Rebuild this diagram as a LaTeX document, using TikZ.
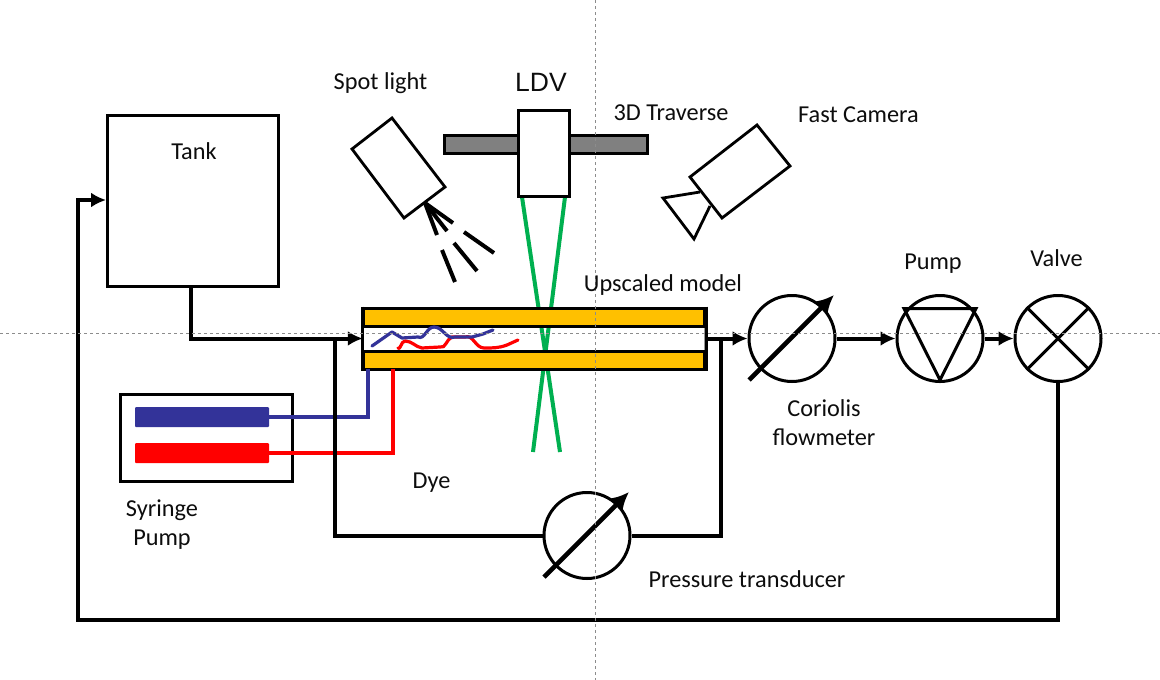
\documentclass[tikz,border=0pt]{standalone}
\usepackage{fontspec}
\setmainfont{Carlito}
\newfontfamily\arialfont{Liberation Sans}
\usetikzlibrary{arrows.meta}
\definecolor{barorange}{RGB}{255,192,0}
\definecolor{beamgreen}{RGB}{0,176,80}
\definecolor{dyeblue}{RGB}{51,51,153}
\definecolor{dyered}{RGB}{255,0,0}
\definecolor{travgray}{RGB}{128,128,128}
\tikzset{
  lbl/.style={font=\fontsize{24.3}{29}\selectfont,align=center,inner sep=0pt,text=black!95},
  box/.style={draw=black,line width=3pt,fill=white,rectangle,inner sep=0pt,line join=miter},
  meter/.style={draw=black,line width=3pt,fill=white,circle,minimum size=86pt,inner sep=0pt},
  pipe/.style={draw=black,line width=4pt,line join=miter},
  flow/.style={pipe,-{Latex[length=15pt,width=15pt]}},
  needle/.style={draw=black,line width=4.6pt,-{Latex[length=18pt,width=18pt]}},
  outline/.style={draw=black,line width=2.8pt,fill=white,line join=miter},
  ray/.style={draw=black,line width=4pt},
  beam/.style={draw=beamgreen,line width=4pt},
  dyeline/.style={line width=3.2pt},
  guide/.style={draw=black!45,line width=0.7pt,dash pattern=on 3pt off 3pt},
  barfill/.style={draw=black,line width=3pt,fill=barorange},
}
\begin{document}
\begin{tikzpicture}[x=1pt,y=-1pt]
\useasboundingbox (0,0) rectangle (1160,680);
\fill[white] (0,0) rectangle (1160,680);

% --- equipment nodes
\node[box,minimum width=171pt,minimum height=171pt] (tank) at (192.5,200.5) {};
\node[box,minimum width=172pt,minimum height=87pt] (syr) at (206,437.5) {};
\node[meter] (cor) at (792,338.5) {};
\node[meter] (pump) at (940,338.5) {};
\node[meter] (valve) at (1058,338.5) {};
\node[meter] (pt) at (587,535.5) {};

% --- test section
\node[draw=black!40,line width=1.5pt,fill=white,rectangle,inner sep=0pt,minimum width=341pt,minimum height=60pt] (model) at (534,338.5) {};

% --- beams (below the orange bars)
\coordinate (beamAend) at (560,452);
\coordinate (beamBend) at (533,452);
\draw[beam] (522,197) -- (beamAend);
\draw[beam] (565,197) -- (beamBend);

\node[barfill,rectangle,inner sep=0pt,minimum width=341pt,minimum height=18pt] (bartop) at (534,317) {};
\node[barfill,rectangle,inner sep=0pt,minimum width=341pt,minimum height=18pt] (barbot) at (534,360) {};
\draw[black,line width=3pt] (bartop.north west) -- (barbot.south west);
\draw[black,line width=3pt] (bartop.north east) -- (barbot.south east);

% --- traverse + LDV
\node[draw=black,line width=3pt,fill=travgray,rectangle,inner sep=0pt,minimum width=203pt,minimum height=18pt] (trav) at (545.5,144.5) {};
\node[box,minimum width=51pt,minimum height=86pt] (ldv) at (544,153.5) {};

% --- dye streaks
\draw[dyered,dyeline,line join=round,line cap=round] (398,348) to[out=-60,in=180] (405,341) to[out=0,in=170] (422,348) -- (440,347) to[out=-20,in=200] (452,337) -- (465,337) to[out=20,in=180] (484,348) to[out=0,in=200] (507,345) -- (518,340);
\draw[dyeblue,dyeline,line join=round,line cap=round] (372,346) -- (392,332) -- (402,338) -- (418,337) to[out=-25,in=180] (434,327) to[out=0,in=200] (455,337) -- (472,337) -- (483,334) -- (493,330);

% --- syringes and dye lines
\node[fill=dyeblue,rectangle,rounded corners=1pt,inner sep=0pt,minimum width=134pt,minimum height=20pt] (sb) at (202,417) {};
\node[fill=dyered,rectangle,rounded corners=1pt,inner sep=0pt,minimum width=134pt,minimum height=20pt] (sr) at (202,453) {};
\coordinate (bluein) at (368,369);
\coordinate (redin) at (393,369);
\draw[dyeblue,dyeline] (sb.east) -| (bluein);
\draw[dyered,dyeline] (sr.east) -| (redin);

% --- pipes
\coordinate (tankout) at (190.5,286);
\coordinate (branchL) at (335,338.5);
\coordinate (branchR) at (721,338.5);
\coordinate (retL) at (78,620);
\coordinate (tankin) at (106,200);
\draw[flow] (tankout) |- (model.west);
\draw[flow] (model.east) -- (cor.west);
\draw[flow] (cor.east) -- (pump.west);
\draw[flow] (pump.east) -- (valve.west);
\draw[pipe] (branchL) |- (pt.west);
\draw[pipe] (pt.east) -| (branchR);
\draw[flow] (valve.south) |- (retL) |- (tankin);

% --- meter symbols
\coordinate (corA) at (749,380);
\coordinate (corB) at (834,295);
\coordinate (ptA) at (544,577);
\coordinate (ptB) at (629,492);
\draw[needle] (corA) -- (corB);
\draw[needle] (ptA) -- (ptB);
\draw[black,line width=3pt,line join=miter] (904,308.5) -- (976,308.5) -- (940,380) -- cycle;
\draw[black,line width=3pt] (valve.45) -- (valve.225);
\draw[black,line width=3pt] (valve.135) -- (valve.-45);

% --- spot light
\draw[outline] (392,118) -- (352,149) -- (404,218) -- (445,187) -- cycle;
\draw[ray] (425,203) -- (437,235);
\draw[ray] (425,203) -- (447,231);
\draw[ray] (425,203) -- (453,223);
\draw[ray] (442,250) -- (455,282);
\draw[ray] (454,243) -- (477,271);
\draw[ray] (464,232) -- (494,253);

% --- fast camera
\draw[outline] (700,192) -- (663,198) -- (694,239) -- (710,206);
\draw[outline] (757,125) -- (690,177) -- (722,218) -- (790,166) -- cycle;

% --- guides
\draw[guide] (595,0) -- (595,680);
\draw[guide] (0,333) -- (1160,333);

% --- labels
\node[lbl] (l1) at (380.5,83.5) {Spot light};
\node[lbl,font=\arialfont\fontsize{26.5}{30}\selectfont] (l2) at (541,82) {LDV};
\node[lbl] (l3) at (671,112.5) {3D Traverse};
\node[lbl] (l4) at (858.5,115) {Fast Camera};
\node[lbl] (l5) at (194,151) {Tank};
\node[lbl] (l6) at (663,285) {Upscaled model};
\node[lbl] (l7) at (933,263.5) {Pump};
\node[lbl] (l8) at (1056.5,258) {Valve};
\node[lbl] (l9) at (824,423) {Coriolis\\flowmeter};
\node[lbl] (l10) at (431.5,482.5) {Dye};
\node[lbl] (l11) at (162,525) {Syringe\\Pump};
\node[lbl] (l12) at (747,579) {Pressure transducer};
\end{tikzpicture}
\end{document}
